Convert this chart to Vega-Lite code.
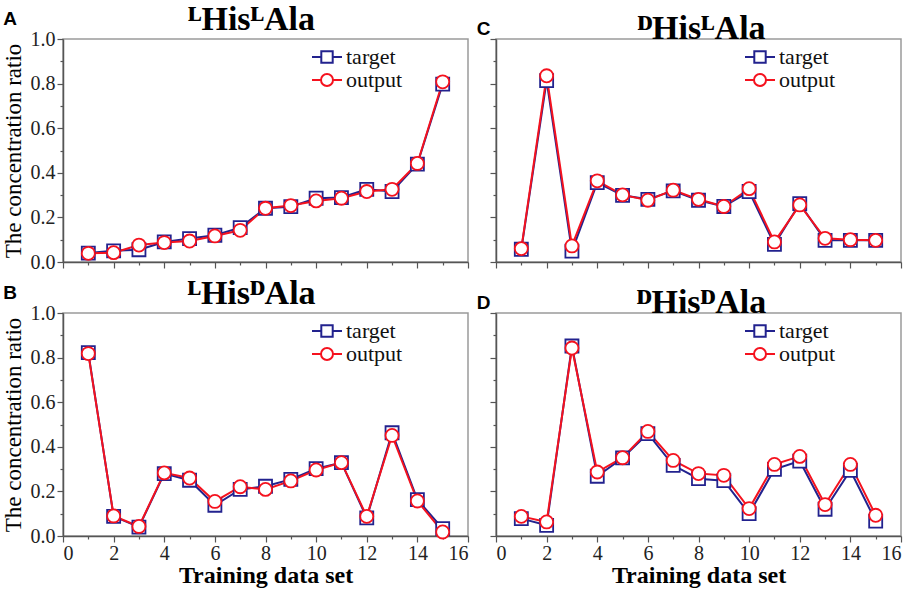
{
  "$schema": "https://vega.github.io/schema/vega-lite/v6.json",
  "description": "Target vs output concentration ratio for four dipeptides over 15 training data sets.",
  "padding": {"left": 1, "top": 2, "right": 2, "bottom": 0},
  "background": "white",
  "datasets": {
    "ratios": [
      {"panel": "A", "set": 1, "series": "target", "ratio": 0.04},
      {"panel": "A", "set": 2, "series": "target", "ratio": 0.05},
      {"panel": "A", "set": 3, "series": "target", "ratio": 0.055},
      {"panel": "A", "set": 4, "series": "target", "ratio": 0.09},
      {"panel": "A", "set": 5, "series": "target", "ratio": 0.105},
      {"panel": "A", "set": 6, "series": "target", "ratio": 0.12},
      {"panel": "A", "set": 7, "series": "target", "ratio": 0.154},
      {"panel": "A", "set": 8, "series": "target", "ratio": 0.241},
      {"panel": "A", "set": 9, "series": "target", "ratio": 0.248},
      {"panel": "A", "set": 10, "series": "target", "ratio": 0.286},
      {"panel": "A", "set": 11, "series": "target", "ratio": 0.289},
      {"panel": "A", "set": 12, "series": "target", "ratio": 0.326},
      {"panel": "A", "set": 13, "series": "target", "ratio": 0.316},
      {"panel": "A", "set": 14, "series": "target", "ratio": 0.439},
      {"panel": "A", "set": 15, "series": "target", "ratio": 0.798},
      {"panel": "A", "set": 1, "series": "output", "ratio": 0.039},
      {"panel": "A", "set": 2, "series": "output", "ratio": 0.042},
      {"panel": "A", "set": 3, "series": "output", "ratio": 0.076},
      {"panel": "A", "set": 4, "series": "output", "ratio": 0.087},
      {"panel": "A", "set": 5, "series": "output", "ratio": 0.094},
      {"panel": "A", "set": 6, "series": "output", "ratio": 0.117},
      {"panel": "A", "set": 7, "series": "output", "ratio": 0.142},
      {"panel": "A", "set": 8, "series": "output", "ratio": 0.241},
      {"panel": "A", "set": 9, "series": "output", "ratio": 0.253},
      {"panel": "A", "set": 10, "series": "output", "ratio": 0.274},
      {"panel": "A", "set": 11, "series": "output", "ratio": 0.286},
      {"panel": "A", "set": 12, "series": "output", "ratio": 0.316},
      {"panel": "A", "set": 13, "series": "output", "ratio": 0.326},
      {"panel": "A", "set": 14, "series": "output", "ratio": 0.442},
      {"panel": "A", "set": 15, "series": "output", "ratio": 0.808},
      {"panel": "C", "set": 1, "series": "target", "ratio": 0.057},
      {"panel": "C", "set": 2, "series": "target", "ratio": 0.813},
      {"panel": "C", "set": 3, "series": "target", "ratio": 0.049},
      {"panel": "C", "set": 4, "series": "target", "ratio": 0.356},
      {"panel": "C", "set": 5, "series": "target", "ratio": 0.299},
      {"panel": "C", "set": 6, "series": "target", "ratio": 0.281},
      {"panel": "C", "set": 7, "series": "target", "ratio": 0.319},
      {"panel": "C", "set": 8, "series": "target", "ratio": 0.277},
      {"panel": "C", "set": 9, "series": "target", "ratio": 0.249},
      {"panel": "C", "set": 10, "series": "target", "ratio": 0.316},
      {"panel": "C", "set": 11, "series": "target", "ratio": 0.079},
      {"panel": "C", "set": 12, "series": "target", "ratio": 0.262},
      {"panel": "C", "set": 13, "series": "target", "ratio": 0.097},
      {"panel": "C", "set": 14, "series": "target", "ratio": 0.097},
      {"panel": "C", "set": 15, "series": "target", "ratio": 0.097},
      {"panel": "C", "set": 1, "series": "output", "ratio": 0.06},
      {"panel": "C", "set": 2, "series": "output", "ratio": 0.835},
      {"panel": "C", "set": 3, "series": "output", "ratio": 0.072},
      {"panel": "C", "set": 4, "series": "output", "ratio": 0.364},
      {"panel": "C", "set": 5, "series": "output", "ratio": 0.301},
      {"panel": "C", "set": 6, "series": "output", "ratio": 0.277},
      {"panel": "C", "set": 7, "series": "output", "ratio": 0.322},
      {"panel": "C", "set": 8, "series": "output", "ratio": 0.281},
      {"panel": "C", "set": 9, "series": "output", "ratio": 0.249},
      {"panel": "C", "set": 10, "series": "output", "ratio": 0.329},
      {"panel": "C", "set": 11, "series": "output", "ratio": 0.09},
      {"panel": "C", "set": 12, "series": "output", "ratio": 0.256},
      {"panel": "C", "set": 13, "series": "output", "ratio": 0.106},
      {"panel": "C", "set": 14, "series": "output", "ratio": 0.1},
      {"panel": "C", "set": 15, "series": "output", "ratio": 0.097},
      {"panel": "B", "set": 1, "series": "target", "ratio": 0.822},
      {"panel": "B", "set": 2, "series": "target", "ratio": 0.088},
      {"panel": "B", "set": 3, "series": "target", "ratio": 0.04},
      {"panel": "B", "set": 4, "series": "target", "ratio": 0.28},
      {"panel": "B", "set": 5, "series": "target", "ratio": 0.25},
      {"panel": "B", "set": 6, "series": "target", "ratio": 0.138},
      {"panel": "B", "set": 7, "series": "target", "ratio": 0.209},
      {"panel": "B", "set": 8, "series": "target", "ratio": 0.223},
      {"panel": "B", "set": 9, "series": "target", "ratio": 0.254},
      {"panel": "B", "set": 10, "series": "target", "ratio": 0.302},
      {"panel": "B", "set": 11, "series": "target", "ratio": 0.329},
      {"panel": "B", "set": 12, "series": "target", "ratio": 0.081},
      {"panel": "B", "set": 13, "series": "target", "ratio": 0.463},
      {"panel": "B", "set": 14, "series": "target", "ratio": 0.163},
      {"panel": "B", "set": 15, "series": "target", "ratio": 0.033},
      {"panel": "B", "set": 1, "series": "output", "ratio": 0.818},
      {"panel": "B", "set": 2, "series": "output", "ratio": 0.09},
      {"panel": "B", "set": 3, "series": "output", "ratio": 0.043},
      {"panel": "B", "set": 4, "series": "output", "ratio": 0.283},
      {"panel": "B", "set": 5, "series": "output", "ratio": 0.26},
      {"panel": "B", "set": 6, "series": "output", "ratio": 0.155},
      {"panel": "B", "set": 7, "series": "output", "ratio": 0.221},
      {"panel": "B", "set": 8, "series": "output", "ratio": 0.209},
      {"panel": "B", "set": 9, "series": "output", "ratio": 0.247},
      {"panel": "B", "set": 10, "series": "output", "ratio": 0.296},
      {"panel": "B", "set": 11, "series": "output", "ratio": 0.329},
      {"panel": "B", "set": 12, "series": "output", "ratio": 0.088},
      {"panel": "B", "set": 13, "series": "output", "ratio": 0.451},
      {"panel": "B", "set": 14, "series": "output", "ratio": 0.157},
      {"panel": "B", "set": 15, "series": "output", "ratio": 0.018},
      {"panel": "D", "set": 1, "series": "target", "ratio": 0.078},
      {"panel": "D", "set": 2, "series": "target", "ratio": 0.048},
      {"panel": "D", "set": 3, "series": "target", "ratio": 0.852},
      {"panel": "D", "set": 4, "series": "target", "ratio": 0.268},
      {"panel": "D", "set": 5, "series": "target", "ratio": 0.35},
      {"panel": "D", "set": 6, "series": "target", "ratio": 0.459},
      {"panel": "D", "set": 7, "series": "target", "ratio": 0.317},
      {"panel": "D", "set": 8, "series": "target", "ratio": 0.257},
      {"panel": "D", "set": 9, "series": "target", "ratio": 0.248},
      {"panel": "D", "set": 10, "series": "target", "ratio": 0.1},
      {"panel": "D", "set": 11, "series": "target", "ratio": 0.299},
      {"panel": "D", "set": 12, "series": "target", "ratio": 0.336},
      {"panel": "D", "set": 13, "series": "target", "ratio": 0.12},
      {"panel": "D", "set": 14, "series": "target", "ratio": 0.294},
      {"panel": "D", "set": 15, "series": "target", "ratio": 0.067},
      {"panel": "D", "set": 1, "series": "output", "ratio": 0.088},
      {"panel": "D", "set": 2, "series": "output", "ratio": 0.063},
      {"panel": "D", "set": 3, "series": "output", "ratio": 0.843},
      {"panel": "D", "set": 4, "series": "output", "ratio": 0.287},
      {"panel": "D", "set": 5, "series": "output", "ratio": 0.351},
      {"panel": "D", "set": 6, "series": "output", "ratio": 0.469},
      {"panel": "D", "set": 7, "series": "output", "ratio": 0.339},
      {"panel": "D", "set": 8, "series": "output", "ratio": 0.28},
      {"panel": "D", "set": 9, "series": "output", "ratio": 0.272},
      {"panel": "D", "set": 10, "series": "output", "ratio": 0.123},
      {"panel": "D", "set": 11, "series": "output", "ratio": 0.321},
      {"panel": "D", "set": 12, "series": "output", "ratio": 0.357},
      {"panel": "D", "set": 13, "series": "output", "ratio": 0.141},
      {"panel": "D", "set": 14, "series": "output", "ratio": 0.321},
      {"panel": "D", "set": 15, "series": "output", "ratio": 0.093}
    ]
  },
  "config": {
    "view": {"stroke": "#9a9a9a", "strokeWidth": 1.5},
    "font": "Liberation Serif",
    "title": {"font": "Liberation Serif", "fontSize": 34, "fontWeight": "bold", "color": "black", "offset": -8},
    "axis": {
      "grid": false,
      "domainColor": "#555555",
      "domainWidth": 1.5,
      "tickColor": "#555555",
      "tickWidth": 1.2,
      "labelFont": "Liberation Serif",
      "labelFontSize": 20,
      "labelColor": "#222222",
      "labelPadding": 2,
      "titleFont": "Liberation Serif",
      "titleColor": "black"
    },
    "legend": {
      "orient": "none",
      "legendX": 248,
      "legendY": 9,
      "title": null,
      "labelFont": "Liberation Serif",
      "labelFontSize": 22,
      "labelColor": "#111111",
      "labelOffset": 3,
      "symbolSize": 900,
      "symbolStrokeWidth": 2,
      "symbolFillColor": "white",
      "clipHeight": 18,
      "rowPadding": 1
    }
  },
  "resolve": {"scale": {"color": "independent", "shape": "independent"}},
  "columns": 2,
  "spacing": {"row": 3, "column": 6},
  "concat": [
    {
      "title": {"text": "A", "anchor": "start", "frame": "bounds", "font": "Liberation Sans", "fontSize": 19, "fontWeight": "bold", "offset": -27, "dx": 2},
      "vconcat": [
        {
          "title": {"text": "ᴸHisᴸAla", "font": "Liberation Serif", "dx": -14},
          "width": 405,
          "height": 223,
          "data": {"name": "ratios"},
          "transform": [{"filter": "datum.panel == 'A'"}],
          "encoding": {
            "x": {"field": "set", "type": "quantitative", "scale": {"domain": [0, 16], "nice": false},
              "axis": {"values": [0,1,2,3,4,5,6,7,8,9,10,11,12,13,14,15,16], "labels": false, "title": null,
                "tickSize": {"condition": {"test": "round(datum.value) % 2 == 0", "value": 6}, "value": 3}}},
            "y": {"field": "ratio", "type": "quantitative", "scale": {"domain": [0, 1], "nice": false},
              "axis": {"values": [0,0.1,0.2,0.3,0.4,0.5,0.6,0.7,0.8,0.9,1], "title": "The concentration ratio", "titleFont": "Liberation Serif", "titleFontSize": 23, "titleFontWeight": "normal", "titlePadding": 5,
                "labelFont": "Liberation Serif", "labelExpr": "round(datum.value*10) % 2 == 0 ? format(datum.value, '.1f') : ''",
                "tickSize": {"condition": {"test": "round(datum.value*10) % 2 == 0", "value": 6}, "value": 3}}},
            "color": {"field": "series", "type": "nominal", "scale": {"domain": ["target", "output"], "range": ["#22228e", "#f5121e"]}}
          },
          "layer": [
            {"mark": {"type": "line", "strokeWidth": 2}},
            {"transform": [{"filter": "datum.series == 'target'"}],
              "mark": {"type": "point", "shape": "square", "filled": false, "fill": "white", "fillOpacity": 1, "opacity": 1, "strokeWidth": 1.8, "size": 170}},
            {"transform": [{"filter": "datum.series == 'output'"}],
              "mark": {"type": "point", "shape": "circle", "filled": false, "fill": "white", "fillOpacity": 1, "opacity": 1, "strokeWidth": 1.8, "size": 170}},
            {"transform": [{"filter": "false"}],
              "mark": {"type": "point", "filled": false, "fill": "white", "strokeWidth": 2, "size": 900},
              "encoding": {"shape": {"field": "series", "type": "nominal", "scale": {"domain": ["target", "output"], "range": ["M-1,0H-0.38M0.38,0H1M-0.38,-0.38H0.38V0.38H-0.38Z", "M-1,0H-0.4M0.4,0H1M-0.4,0A0.4,0.4,0,1,1,0.4,0A0.4,0.4,0,1,1,-0.4,0Z"]}}}}
          ]
        }
      ]
    },
    {
      "title": {"text": "C", "anchor": "start", "frame": "bounds", "font": "Liberation Sans", "fontSize": 19, "fontWeight": "bold", "offset": -27, "dx": -12},
      "vconcat": [
        {
          "title": {"text": "ᴰHisᴸAla", "font": "Liberation Serif", "dx": 3},
          "width": 405,
          "height": 223,
          "data": {"name": "ratios"},
          "transform": [{"filter": "datum.panel == 'C'"}],
          "encoding": {
            "x": {"field": "set", "type": "quantitative", "scale": {"domain": [0, 16], "nice": false},
              "axis": {"values": [0,1,2,3,4,5,6,7,8,9,10,11,12,13,14,15,16], "labels": false, "title": null,
                "tickSize": {"condition": {"test": "round(datum.value) % 2 == 0", "value": 6}, "value": 3}}},
            "y": {"field": "ratio", "type": "quantitative", "scale": {"domain": [0, 1], "nice": false},
              "axis": {"values": [0,0.1,0.2,0.3,0.4,0.5,0.6,0.7,0.8,0.9,1], "title": null, "labels": false,
                "tickSize": {"condition": {"test": "round(datum.value*10) % 2 == 0", "value": 6}, "value": 3}}},
            "color": {"field": "series", "type": "nominal", "scale": {"domain": ["target", "output"], "range": ["#22228e", "#f5121e"]}}
          },
          "layer": [
            {"mark": {"type": "line", "strokeWidth": 2}},
            {"transform": [{"filter": "datum.series == 'target'"}],
              "mark": {"type": "point", "shape": "square", "filled": false, "fill": "white", "fillOpacity": 1, "opacity": 1, "strokeWidth": 1.8, "size": 170}},
            {"transform": [{"filter": "datum.series == 'output'"}],
              "mark": {"type": "point", "shape": "circle", "filled": false, "fill": "white", "fillOpacity": 1, "opacity": 1, "strokeWidth": 1.8, "size": 170}},
            {"transform": [{"filter": "false"}],
              "mark": {"type": "point", "filled": false, "fill": "white", "strokeWidth": 2, "size": 900},
              "encoding": {"shape": {"field": "series", "type": "nominal", "scale": {"domain": ["target", "output"], "range": ["M-1,0H-0.38M0.38,0H1M-0.38,-0.38H0.38V0.38H-0.38Z", "M-1,0H-0.4M0.4,0H1M-0.4,0A0.4,0.4,0,1,1,0.4,0A0.4,0.4,0,1,1,-0.4,0Z"]}}}}
          ]
        }
      ]
    },
    {
      "title": {"text": "B", "anchor": "start", "frame": "bounds", "font": "Liberation Sans", "fontSize": 19, "fontWeight": "bold", "offset": -27, "dx": 2},
      "vconcat": [
        {
          "title": {"text": "ᴸHisᴰAla", "font": "Liberation Serif", "dx": -14},
          "width": 405,
          "height": 223,
          "data": {"name": "ratios"},
          "transform": [{"filter": "datum.panel == 'B'"}],
          "encoding": {
            "x": {"field": "set", "type": "quantitative", "scale": {"domain": [0, 16], "nice": false},
              "axis": {"values": [0,1,2,3,4,5,6,7,8,9,10,11,12,13,14,15,16], "title": "Training data set", "titleFont": "Liberation Serif", "titleFontSize": 24, "titleFontWeight": "bold", "titlePadding": 0,
                "labelFont": "Liberation Serif", "labelPadding": 1, "labelExpr": "round(datum.value) % 2 == 0 ? datum.label : ''",
                "tickSize": {"condition": {"test": "round(datum.value) % 2 == 0", "value": 6}, "value": 3}}},
            "y": {"field": "ratio", "type": "quantitative", "scale": {"domain": [0, 1], "nice": false},
              "axis": {"values": [0,0.1,0.2,0.3,0.4,0.5,0.6,0.7,0.8,0.9,1], "title": "The concentration ratio", "titleFont": "Liberation Serif", "titleFontSize": 23, "titleFontWeight": "normal", "titlePadding": 5,
                "labelFont": "Liberation Serif", "labelExpr": "round(datum.value*10) % 2 == 0 ? format(datum.value, '.1f') : ''",
                "tickSize": {"condition": {"test": "round(datum.value*10) % 2 == 0", "value": 6}, "value": 3}}},
            "color": {"field": "series", "type": "nominal", "scale": {"domain": ["target", "output"], "range": ["#22228e", "#f5121e"]}}
          },
          "layer": [
            {"mark": {"type": "line", "strokeWidth": 2}},
            {"transform": [{"filter": "datum.series == 'target'"}],
              "mark": {"type": "point", "shape": "square", "filled": false, "fill": "white", "fillOpacity": 1, "opacity": 1, "strokeWidth": 1.8, "size": 170}},
            {"transform": [{"filter": "datum.series == 'output'"}],
              "mark": {"type": "point", "shape": "circle", "filled": false, "fill": "white", "fillOpacity": 1, "opacity": 1, "strokeWidth": 1.8, "size": 170}},
            {"transform": [{"filter": "false"}],
              "mark": {"type": "point", "filled": false, "fill": "white", "strokeWidth": 2, "size": 900},
              "encoding": {"shape": {"field": "series", "type": "nominal", "scale": {"domain": ["target", "output"], "range": ["M-1,0H-0.38M0.38,0H1M-0.38,-0.38H0.38V0.38H-0.38Z", "M-1,0H-0.4M0.4,0H1M-0.4,0A0.4,0.4,0,1,1,0.4,0A0.4,0.4,0,1,1,-0.4,0Z"]}}}}
          ]
        }
      ]
    },
    {
      "title": {"text": "D", "anchor": "start", "frame": "bounds", "font": "Liberation Sans", "fontSize": 19, "fontWeight": "bold", "offset": -27, "dx": -12},
      "vconcat": [
        {
          "title": {"text": "ᴰHisᴰAla", "font": "Liberation Serif", "dx": 3},
          "width": 405,
          "height": 223,
          "data": {"name": "ratios"},
          "transform": [{"filter": "datum.panel == 'D'"}],
          "encoding": {
            "x": {"field": "set", "type": "quantitative", "scale": {"domain": [0, 16], "nice": false},
              "axis": {"values": [0,1,2,3,4,5,6,7,8,9,10,11,12,13,14,15,16], "title": "Training data set", "titleFont": "Liberation Serif", "titleFontSize": 24, "titleFontWeight": "bold", "titlePadding": 0,
                "labelFont": "Liberation Serif", "labelPadding": 1, "labelExpr": "round(datum.value) % 2 == 0 ? datum.label : ''",
                "tickSize": {"condition": {"test": "round(datum.value) % 2 == 0", "value": 6}, "value": 3}}},
            "y": {"field": "ratio", "type": "quantitative", "scale": {"domain": [0, 1], "nice": false},
              "axis": {"values": [0,0.1,0.2,0.3,0.4,0.5,0.6,0.7,0.8,0.9,1], "title": null, "labels": false,
                "tickSize": {"condition": {"test": "round(datum.value*10) % 2 == 0", "value": 6}, "value": 3}}},
            "color": {"field": "series", "type": "nominal", "scale": {"domain": ["target", "output"], "range": ["#22228e", "#f5121e"]}}
          },
          "layer": [
            {"mark": {"type": "line", "strokeWidth": 2}},
            {"transform": [{"filter": "datum.series == 'target'"}],
              "mark": {"type": "point", "shape": "square", "filled": false, "fill": "white", "fillOpacity": 1, "opacity": 1, "strokeWidth": 1.8, "size": 170}},
            {"transform": [{"filter": "datum.series == 'output'"}],
              "mark": {"type": "point", "shape": "circle", "filled": false, "fill": "white", "fillOpacity": 1, "opacity": 1, "strokeWidth": 1.8, "size": 170}},
            {"transform": [{"filter": "false"}],
              "mark": {"type": "point", "filled": false, "fill": "white", "strokeWidth": 2, "size": 900},
              "encoding": {"shape": {"field": "series", "type": "nominal", "scale": {"domain": ["target", "output"], "range": ["M-1,0H-0.38M0.38,0H1M-0.38,-0.38H0.38V0.38H-0.38Z", "M-1,0H-0.4M0.4,0H1M-0.4,0A0.4,0.4,0,1,1,0.4,0A0.4,0.4,0,1,1,-0.4,0Z"]}}}}
          ]
        }
      ]
    }
  ]
}
